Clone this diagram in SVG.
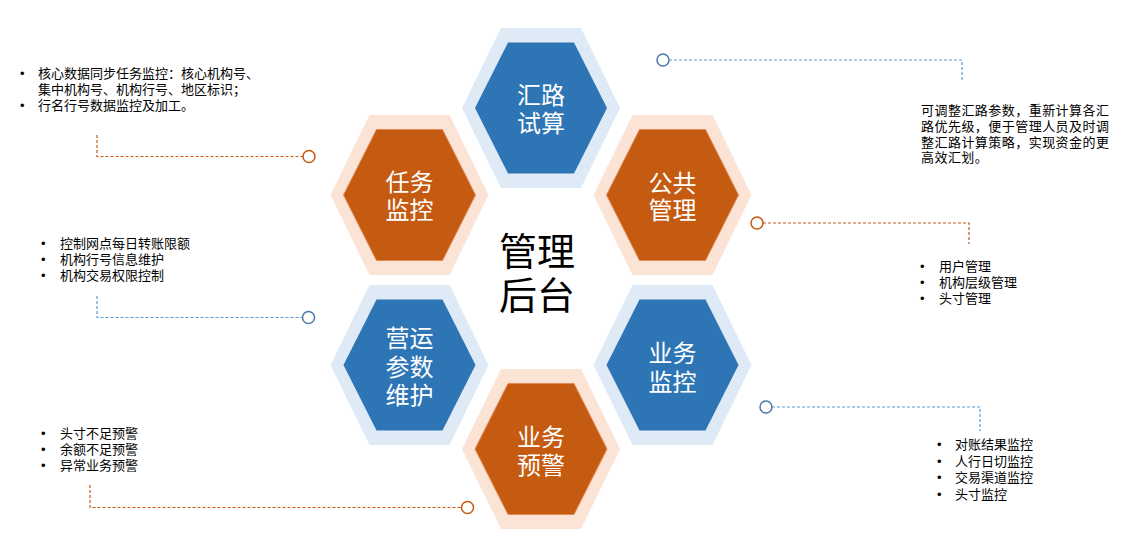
<svg xmlns="http://www.w3.org/2000/svg" xmlns:xlink="http://www.w3.org/1999/xlink" width="1125" height="538" viewBox="0 0 1125 538">
<style>
.hl{font-family:"Noto Sans CJK SC","Liberation Sans",sans-serif;font-size:24px;fill:#fff;text-anchor:middle}
.ctr{font-family:"Noto Sans CJK SC","Liberation Sans",sans-serif;font-size:38px;fill:#000;text-anchor:middle}
.t{font-family:"Noto Sans CJK SC","Liberation Sans",sans-serif;font-size:13px;fill:#000}
.b{font-family:"Liberation Sans",sans-serif;font-size:13px;fill:#000}
.ob{fill:#DEEAF6}.ib{fill:#2E75B6}
.oo{fill:#FBE3D5}.io{fill:#C55A11;stroke:#E08A55;stroke-width:1}
.lo{fill:none;stroke:#C55A11;stroke-width:1.2;stroke-dasharray:3 2}
.lb{fill:none;stroke:#5B9BD5;stroke-width:1.2;stroke-dasharray:3 2}
.co{fill:#fff;stroke:#C55A11;stroke-width:1.5}
.cb{fill:#fff;stroke:#4E79A7;stroke-width:1.5}
</style>
<defs>
<polygon id="ho" points="-40,-80 40,-80 79,0 40,80 -40,80 -79,0"/>
<polygon id="hi" points="-33,-65.5 33,-65.5 66,0 33,65.5 -33,65.5 -66,0"/>
</defs>

<g id="connectors">
<polyline class="lo" points="97,135 97,156.5 303,156.5"/>
<circle class="co" cx="309" cy="156.5" r="6"/>
<polyline class="lb" points="669,60 962,60 962,82"/>
<circle class="cb" cx="663" cy="60" r="6"/>
<polyline class="lo" points="763,223 969,223 969,244"/>
<circle class="co" cx="757" cy="223" r="6"/>
<polyline class="lb" points="97,296 97,317.5 302,317.5"/>
<circle class="cb" cx="308.5" cy="317.5" r="6"/>
<polyline class="lo" points="90,485 90,507.5 461,507.5"/>
<circle class="co" cx="467.5" cy="507.5" r="6"/>
<polyline class="lb" points="772,407 980,407 980,431"/>
<circle class="cb" cx="766" cy="407" r="6"/>
</g>

<g id="node-huilu">
<use xlink:href="#ho" class="ob" transform="translate(541,108)"/>
<use xlink:href="#hi" class="ib" transform="translate(541,108)"/>
<text class="hl" x="541" y="104">汇路<tspan x="541" dy="28">试算</tspan></text>
</g>

<g id="node-renwu">
<use xlink:href="#ho" class="oo" transform="translate(409.5,195)"/>
<use xlink:href="#hi" class="io" transform="translate(409.5,195)"/>
<text class="hl" x="409.5" y="190.5">任务<tspan x="409.5" dy="28.5">监控</tspan></text>
</g>

<g id="node-gonggong">
<use xlink:href="#ho" class="oo" transform="translate(672.5,195)"/>
<use xlink:href="#hi" class="io" transform="translate(672.5,195)"/>
<text class="hl" x="672.5" y="192">公共<tspan x="672.5" dy="27">管理</tspan></text>
</g>

<g id="node-yingyun">
<use xlink:href="#ho" class="ob" transform="translate(409.5,365)"/>
<use xlink:href="#hi" class="ib" transform="translate(409.5,365)"/>
<text class="hl" x="409.5" y="347">营运<tspan x="409.5" dy="28.5">参数</tspan><tspan x="409.5" dy="28.5">维护</tspan></text>
</g>

<g id="node-yewujiankong">
<use xlink:href="#ho" class="ob" transform="translate(672.5,365)"/>
<use xlink:href="#hi" class="ib" transform="translate(672.5,365)"/>
<text class="hl" x="672.5" y="362">业务<tspan x="672.5" dy="28.5">监控</tspan></text>
</g>

<g id="node-yujing">
<use xlink:href="#ho" class="oo" transform="translate(541,449)"/>
<use xlink:href="#hi" class="io" transform="translate(541,449)"/>
<text class="hl" x="541" y="445.5">业务<tspan x="541" dy="28.5">预警</tspan></text>
</g>

<g id="center">
<text class="ctr" x="537" y="265">管理<tspan x="537" dy="44">后台</tspan></text>
</g>

<g id="note-renwu">
<text class="b" x="20" y="77.5">•<tspan x="20" dy="32.5">•</tspan></text>
<text class="t" x="38" y="77.5">核心数据同步任务监控：核心机构号、<tspan x="38" dy="16.5">集中机构号、机构行号、地区标识；</tspan><tspan x="38" dy="16">行名行号数据监控及加工。</tspan></text>
</g>

<g id="note-huilu">
<text class="t" x="921" y="115"><tspan textLength="188" lengthAdjust="spacing">可调整汇路参数，重新计算各汇</tspan><tspan x="921" dy="16" textLength="188" lengthAdjust="spacing">路优先级，便于管理人员及时调</tspan><tspan x="921" dy="15.5" textLength="188" lengthAdjust="spacing">整汇路计算策略，实现资金的更</tspan><tspan x="921" dy="15.5" letter-spacing="0.45">高效汇划。</tspan></text>
</g>

<g id="note-gonggong">
<text class="b" x="920" y="270.5">•<tspan x="920" dy="16">•</tspan><tspan x="920" dy="16">•</tspan></text>
<text class="t" x="939" y="270.5">用户管理<tspan x="939" dy="16">机构层级管理</tspan><tspan x="939" dy="16">头寸管理</tspan></text>
</g>

<g id="note-yingyun">
<text class="b" x="41" y="248">•<tspan x="41" dy="16">•</tspan><tspan x="41" dy="16">•</tspan></text>
<text class="t" x="60" y="248">控制网点每日转账限额<tspan x="60" dy="16">机构行号信息维护</tspan><tspan x="60" dy="16">机构交易权限控制</tspan></text>
</g>

<g id="note-yujing">
<text class="b" x="41" y="438">•<tspan x="41" dy="16">•</tspan><tspan x="41" dy="16">•</tspan></text>
<text class="t" x="60" y="438">头寸不足预警<tspan x="60" dy="16">余额不足预警</tspan><tspan x="60" dy="16">异常业务预警</tspan></text>
</g>

<g id="note-yewujiankong">
<text class="b" x="937" y="449">•<tspan x="937" dy="16.5">•</tspan><tspan x="937" dy="16.5">•</tspan><tspan x="937" dy="16.5">•</tspan></text>
<text class="t" x="955" y="449">对账结果监控<tspan x="955" dy="16.5">人行日切监控</tspan><tspan x="955" dy="16.5">交易渠道监控</tspan><tspan x="955" dy="16.5">头寸监控</tspan></text>
</g>
</svg>
